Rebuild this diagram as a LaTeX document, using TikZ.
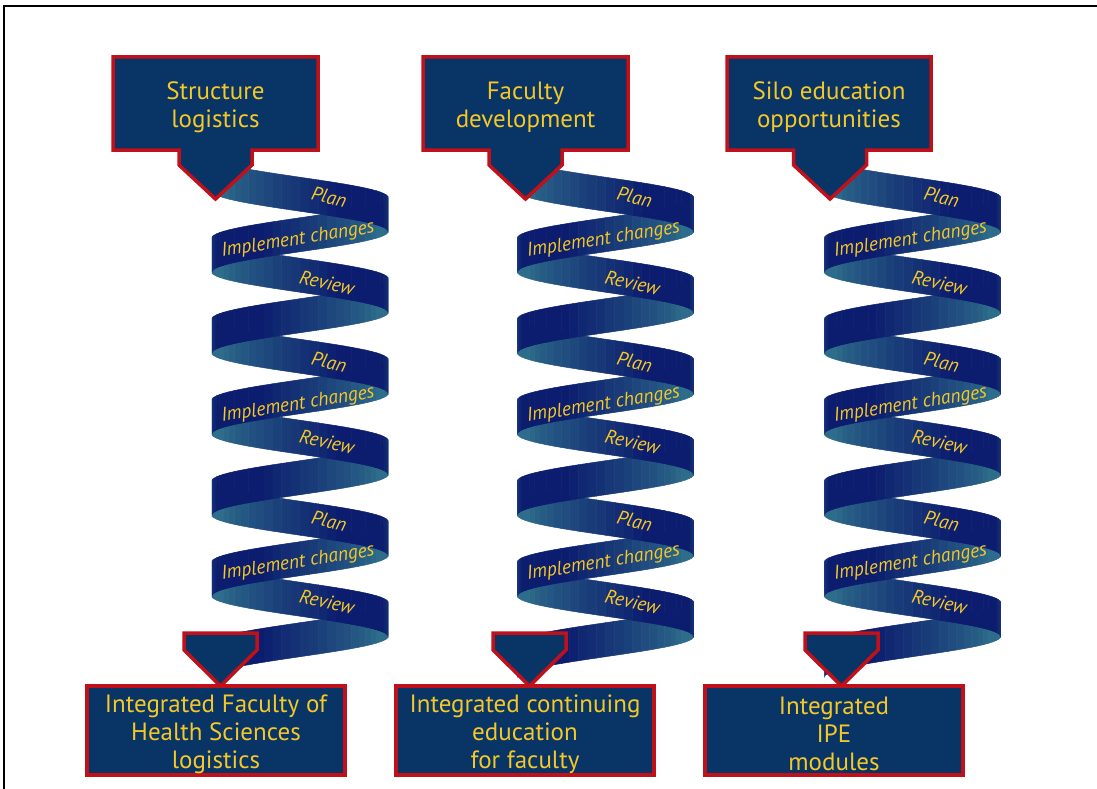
\documentclass[tikz,border=0pt]{standalone}
\usepackage{fontspec}
\setmainfont{PT Sans}
\definecolor{tl}{RGB}{45,108,138}
\definecolor{nv}{RGB}{12,28,110}
\definecolor{boxc}{RGB}{8,52,102}
\definecolor{redc}{RGB}{192,16,26}
\definecolor{gold}{RGB}{245,200,40}
\tikzset{
 callout/.style={fill=boxc, draw=redc, line width=3.5pt, line join=miter},
 boxtext/.style={text=gold, font=\fontsize{25}{28}\selectfont, align=center, inner sep=0pt},
 ribtext/.style={text=gold, font=\fontsize{19.5}{21}\selectfont\itshape, inner sep=0pt},
 frameline/.style={draw=black, line width=2pt},
}
\newcommand\drawhelix[1]{%
 \foreach \i in {359,358,...,0}{%
  \pgfmathsetmacro\xa{#1-88*cos(\i*6)}%
  \pgfmathsetmacro\xb{#1-88*cos(\i*6+6)}%
  \pgfmathsetmacro\ya{157+0.22497*\i*6}%
  \pgfmathsetmacro\yb{157+0.22497*(\i*6+6)}%
  \pgfmathsetmacro\yc{\yb+34}%
  \pgfmathsetmacro\yd{\ya+34}%
  \pgfmathsetmacro\u{(mod(\i,30)+0.5)/30}%
  \pgfmathsetmacro\p{100*(max(0,min(1,(0.65-\u)/0.5))+0.35*max(0,(\u-0.88)/0.12))}%
  \fill[fill=tl!\p!nv, draw=tl!\p!nv, line width=0.5pt] (\xa,\ya) -- (\xb,\yb) -- (\xb,\yc) -- (\xa,\yd) -- cycle;
 }%
}
\begin{document}
\begin{tikzpicture}[x=1pt,y=-1pt]
\useasboundingbox (0,0) rectangle (1097,789);
\fill[white] (0,0) rectangle (1097,789);
\draw[frameline] (4,789) -- (4,6) -- (1097,6);

% helices
\drawhelix{300}
\drawhelix{605.5}
\drawhelix{912.5}

% ribbon labels
\foreach \cx/\s in {300/a,605.5/b,912.5/c}{
 \foreach \yp/\yi/\yr/\j in {197/240/283/1, 362/405/442/2, 521/563/602/3}{
  \node[ribtext, rotate=-13] (plan\s\j) at (\cx+29,\yp) {Plan};
  \node[ribtext, rotate=9] (impl\s\j) at (\cx-2,\yi) {Implement changes};
  \node[ribtext, rotate=-13] (rev\s\j) at (\cx+27,\yr) {Review};
 }
}

% top callouts
\path[callout] (113,57) -- (318,57) -- (318,150) -- (252,150) -- (252,165) -- (215.5,199) -- (179,165) -- (179,150) -- (113,150) -- cycle;
\path[callout] (423,57) -- (628,57) -- (628,150) -- (562,150) -- (562,165) -- (525.5,199) -- (489,165) -- (489,150) -- (423,150) -- cycle;
\path[callout] (727,57) -- (931,57) -- (931,150) -- (866.5,150) -- (866.5,165) -- (830,199) -- (793.5,165) -- (793.5,150) -- (727,150) -- cycle;
\node[boxtext] (top1) at (215.5,107) {Structure\\logistics};
\node[boxtext] (top2) at (525.5,107) {Faculty\\development};
\node[boxtext] (top3) at (829,107) {Silo education\\opportunities};

% bottom arrows
\path[callout] (184,633) -- (257,633) -- (257,650) -- (220.5,686) -- (184,650) -- cycle;
\path[callout] (493,633) -- (566,633) -- (566,650) -- (529.5,686) -- (493,650) -- cycle;
\path[callout] (805,633) -- (878,633) -- (878,650) -- (841.5,686) -- (805,650) -- cycle;

% bottom boxes
\path[callout] (87,686) rectangle (345,775);
\path[callout] (396,686) rectangle (654,775);
\path[callout] (705,686) rectangle (963,775);
\node[boxtext] (bot1) at (216,734) {Integrated Faculty of\\Health Sciences\\logistics};
\node[boxtext] (bot2) at (525,734) {Integrated continuing\\education\\for faculty};
\node[boxtext] (bot3) at (834,734) {Integrated\\IPE\\modules};
\end{tikzpicture}
\end{document}
